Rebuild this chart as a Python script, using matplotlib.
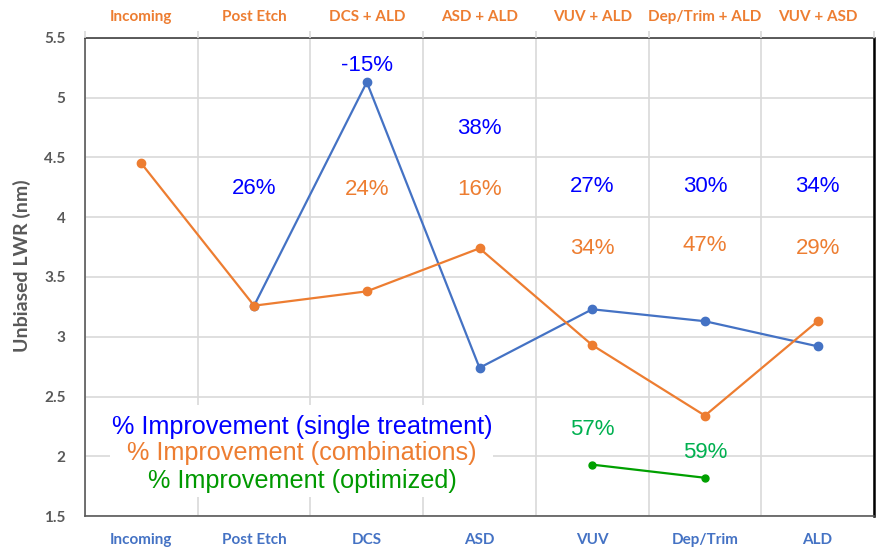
import matplotlib.pyplot as plt
from matplotlib.patches import Rectangle
import numpy as np

steps = ['Incoming', 'Post Etch', 'DCS', 'ASD', 'VUV', 'Dep/Trim', 'ALD']
combos = ['Incoming', 'Post Etch', 'DCS + ALD', 'ASD + ALD', 'VUV + ALD',
          'Dep/Trim + ALD', 'VUV + ASD']

single = [np.nan, 3.26, 5.13, 2.74, 3.23, 3.13, 2.92]
combined = [4.45, 3.26, 3.38, 3.74, 2.93, 2.34, 3.13]
optimized = [np.nan, np.nan, np.nan, np.nan, 1.93, 1.82, np.nan]

# percentage labels: (x index, y position, text)
single_pct = [(1, 4.24, '26%'), (2, 5.27, '-15%'), (3, 4.74, '38%'),
              (4, 4.26, '27%'), (5, 4.26, '30%'), (6, 4.26, '34%')]
combo_pct = [(2, 4.23, '24%'), (3, 4.23, '16%'), (4, 3.74, '34%'),
             (5, 3.76, '47%'), (6, 3.74, '29%')]
opt_pct = [(4, 2.22, '57%'), (5, 2.03, '59%')]

BLUE = '#4472C4'
ORANGE = '#ED7D31'
GREEN = '#00A000'
GREY = '#595959'

fig = plt.figure(figsize=(8.83, 5.56), dpi=100)
ax = fig.add_axes([0.0963, 0.0719, 0.8935, 0.8598])
x = np.arange(len(steps))

ax.plot(x, single, color=BLUE, lw=1.6, marker='o', ms=6, zorder=3)
ax.plot(x, combined, color=ORANGE, lw=1.6, marker='o', ms=6, zorder=3)
ax.plot(x, optimized, color=GREEN, lw=1.6, marker='o', ms=5, zorder=3)

ax.set_xlim(-0.5, 6.5)
ax.set_ylim(1.5, 5.5)
ax.set_yticks(np.arange(1.5, 5.51, 0.5))
ax.set_yticklabels(['1.5', '2', '2.5', '3', '3.5', '4', '4.5', '5', '5.5'])
ax.set_xticks(x)
ax.set_xticklabels(steps)
ax.set_xticks(np.arange(-0.5, 6.6, 1), minor=True)
ax.tick_params(axis='x', which='major', length=0, pad=12, labelcolor=BLUE)
ax.tick_params(axis='x', which='minor', length=0)
ax.tick_params(axis='y', length=0, pad=14, labelcolor=GREY)
for lab in ax.get_xticklabels() + ax.get_yticklabels():
    lab.set_fontfamily('Lato')
    lab.set_fontweight('bold')
    lab.set_fontsize(11)

ax.set_axisbelow(True)
ax.grid(which='minor', axis='x', color='#D9D9D9', lw=1.2)
ax.grid(which='major', axis='y', color='#D9D9D9', lw=1.2)

ax.spines['left'].set_color(GREY)
ax.spines['bottom'].set_color(GREY)
ax.spines['top'].set_color('#404040')
ax.spines['right'].set_color('black')
ax.spines['right'].set_linewidth(1.8)
ax.spines['left'].set_linewidth(1.2)
ax.spines['bottom'].set_linewidth(1.2)
ax.spines['top'].set_linewidth(1.2)

ax.set_ylabel('Unbiased LWR (nm)', fontfamily='Lato', fontweight='bold',
              fontsize=14, color=GREY)
ax.yaxis.set_label_coords(-0.068, 0.523)

top = ax.twiny()
top.set_xlim(ax.get_xlim())
top.set_xticks(x)
top.set_xticklabels(combos)
top.set_xticks(np.arange(-0.5, 6.6, 1), minor=True)
top.tick_params(axis='x', which='major', length=0, pad=10, labelcolor=ORANGE)
top.tick_params(axis='x', which='minor', length=5, color='#D9D9D9', width=1.2)
for lab in top.get_xticklabels():
    lab.set_fontfamily('Lato')
    lab.set_fontweight('bold')
    lab.set_fontsize(11)
for s in top.spines.values():
    s.set_visible(False)

pct_font = dict(fontfamily='Liberation Sans', fontsize=16, ha='center',
                va='center', zorder=4)
for xi, yi, t in single_pct:
    ax.text(xi, yi, t, color='#0000FF', **pct_font)
for xi, yi, t in combo_pct:
    ax.text(xi, yi, t, color=ORANGE, **pct_font)
for xi, yi, t in opt_pct:
    ax.text(xi, yi, t, color='#00B050', **pct_font)

ax.add_patch(Rectangle((0.032, 0.040), 0.485, 0.192, transform=ax.transAxes,
                       facecolor='white', edgecolor='none', zorder=1))
legend_lines = [('% Improvement (single treatment)', '#0000FF'),
                ('% Improvement (combinations)', ORANGE),
                ('% Improvement (optimized)', '#009900')]
legend_y = [0.186, 0.131, 0.073]
for (t, c), ly in zip(legend_lines, legend_y):
    ax.text(0.275, ly, t, color=c, transform=ax.transAxes,
            fontfamily='Liberation Sans', fontsize=18.2, ha='center',
            va='center', zorder=4)

fig.savefig('out.png', dpi=100)
